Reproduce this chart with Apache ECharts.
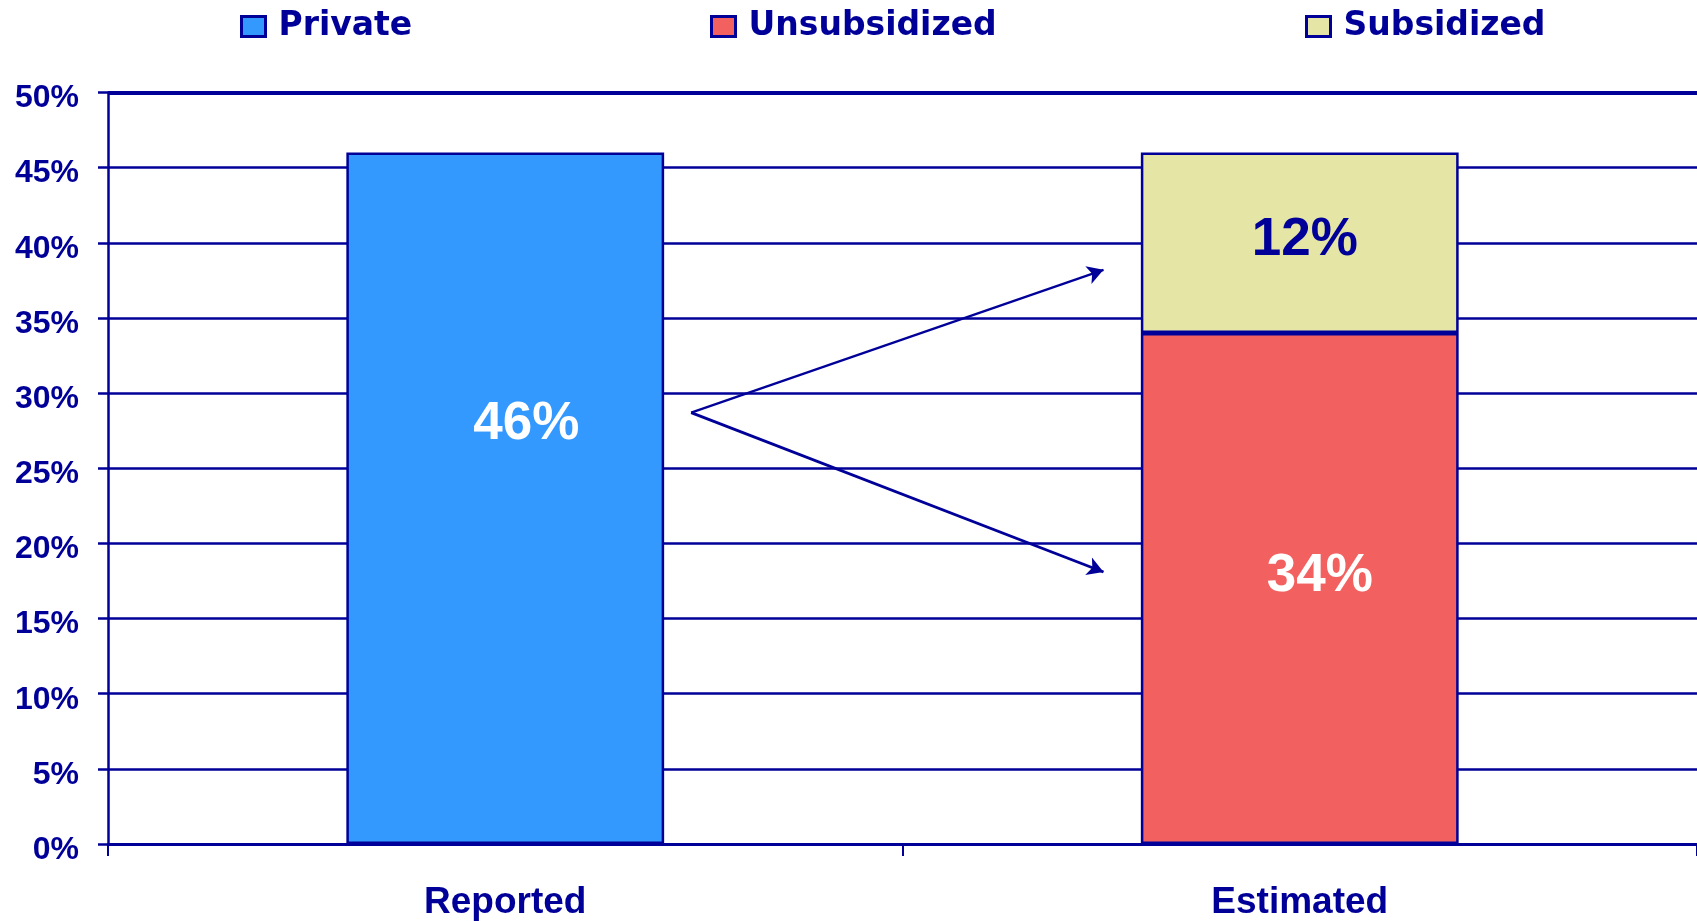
<!DOCTYPE html>
<html>
<head>
<meta charset="utf-8">
<script src="https://cdn.jsdelivr.net/npm/echarts@6/dist/echarts.min.js"></script>
<style>
html,body{margin:0;padding:0;background:#fff;}
#chart{width:1697px;height:921px;}
</style>
</head>
<body>
<div id="chart"></div>
<script>
const categories = ['Reported', 'Estimated'];
const privateVals = [46, '-'];
const unsubsidizedVals = ['-', 34];
const subsidizedVals = ['-', 12];
const yTicks = [0, 5, 10, 15, 20, 25, 30, 35, 40, 45, 50];
// arrow annotation endpoints: [x on 0..2 category span, y in %]
const arrowStart = [0.734, 28.7];
const arrowUpEnd = [1.253, 38.2];
const arrowDownEnd = [1.253, 18.1];

const NAVY = '#000099';
const chart = echarts.init(document.getElementById('chart'));

const legendText = {color: NAVY, fontFamily: 'DejaVu Sans', fontWeight: 'bold', fontSize: 33, padding: [0, 0, 0, 8]};
function mkLegend(name, left) {
  return {data: [name], left: left, top: 10, padding: 0, itemWidth: 24, itemHeight: 20, itemGap: 0,
          itemStyle: {borderWidth: 3},
          textStyle: legendText, icon: 'rect', selectedMode: false};
}

chart.setOption({
  backgroundColor: '#fff',
  animation: false,
  legend: [mkLegend('Private', 240), mkLegend('Unsubsidized', 710), mkLegend('Subsidized', 1305)],
  grid: {left: 108, right: -5, top: 92.5, bottom: 77, containLabel: false},
  xAxis: [{
    type: 'category', data: categories, boundaryGap: true,
    axisLine: {lineStyle: {color: NAVY, width: 3}},
    axisTick: {show: true, length: 12, lineStyle: {color: NAVY, width: 2}},
    axisLabel: {color: NAVY, fontFamily: 'Liberation Sans', fontWeight: 'bold', fontSize: 37, margin: 40}
  }, {
    type: 'value', min: 0, max: 2, show: false
  }],
  yAxis: {
    type: 'value', min: yTicks[0], max: yTicks[yTicks.length - 1], interval: 5,
    axisLine: {show: true, lineStyle: {color: NAVY, width: 2.5}},
    axisTick: {show: true, length: 10, lineStyle: {color: NAVY, width: 2.5}},
    axisLabel: {margin: 29, formatter: '{a|{value}%}',
                rich: {a: {color: NAVY, fontFamily: 'Liberation Sans', fontWeight: 'bold', fontSize: 32,
                           padding: [12, 0, 0, 0]}}},
    splitLine: {show: true, lineStyle: {color: NAVY, width: 2.5}}
  },
  series: [{
    name: 'Private', type: 'bar', stack: 'all', data: privateVals, barWidth: '40%',
    itemStyle: {color: '#3399FF', borderColor: NAVY, borderWidth: 2.5},
    label: {show: true, position: 'inside', offset: [21, -74], formatter: '{c}%',
            color: '#fff', fontFamily: 'Liberation Sans', fontWeight: 'bold', fontSize: 53}
  }, {
    name: 'Unsubsidized', type: 'bar', stack: 'all', data: unsubsidizedVals, barWidth: '40%',
    itemStyle: {color: '#F26060', borderColor: NAVY, borderWidth: 2.5},
    label: {show: true, position: 'inside', offset: [20, -12], formatter: '{c}%',
            color: '#fff', fontFamily: 'Liberation Sans', fontWeight: 'bold', fontSize: 53}
  }, {
    name: 'Subsidized', type: 'bar', stack: 'all', data: subsidizedVals, barWidth: '40%',
    itemStyle: {color: '#E5E5A5', borderColor: NAVY, borderWidth: 2.5},
    label: {show: true, position: 'inside', offset: [5, -2], formatter: '{c}%',
            color: NAVY, fontFamily: 'Liberation Sans', fontWeight: 'bold', fontSize: 53}
  }, {
    name: 'arrows', type: 'line', xAxisIndex: 1, data: [], silent: true,
    markLine: {
      silent: true, symbol: ['none', 'arrow'], symbolSize: [14, 16],
      label: {show: false},
      lineStyle: {color: NAVY, width: 2.2, type: 'solid'},
      data: [
        [{coord: arrowStart}, {coord: arrowUpEnd}],
        [{coord: arrowStart}, {coord: arrowDownEnd, lineStyle: {width: 2.8}}]
      ]
    }
  }, {
    name: 'topline', type: 'line', xAxisIndex: 1, data: [], silent: true,
    markLine: {
      silent: true, symbol: ['none', 'none'], label: {show: false},
      lineStyle: {color: NAVY, width: 4, type: 'solid'},
      data: [{yAxis: yTicks[yTicks.length - 1]}]
    }
  }]
});
</script>
</body>
</html>
